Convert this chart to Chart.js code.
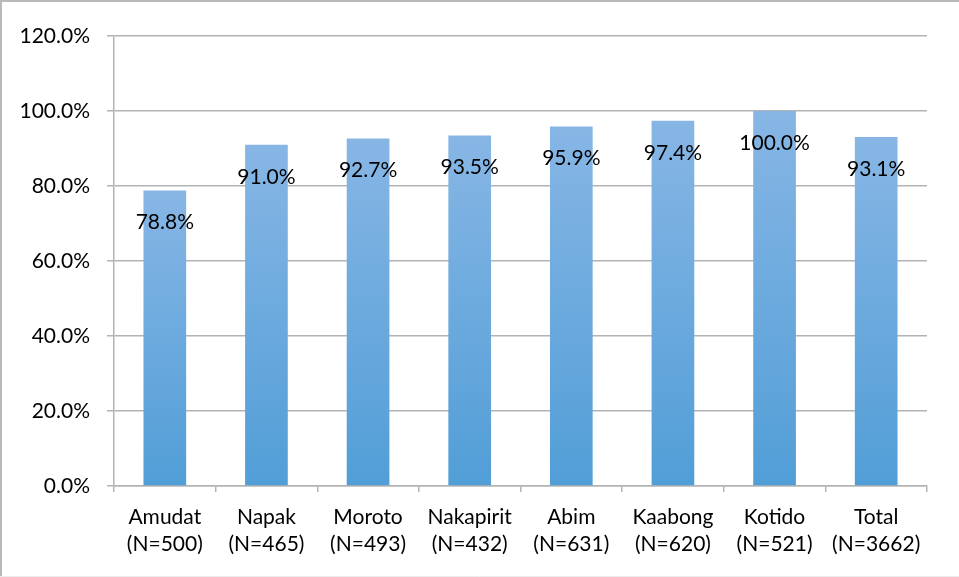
<!DOCTYPE html>
<html>
<head>
<meta charset="utf-8">
<script src="https://cdn.jsdelivr.net/npm/chart.js@4"></script>
<style>
	body { margin: 0; background: #fff; }
	canvas { display: block; }
</style>
</head>
<body>
<canvas id="myChart" width="959" height="577"></canvas>
<script>
var districts = ['Amudat', 'Napak', 'Moroto', 'Nakapirit', 'Abim', 'Kaabong', 'Kotido', 'Total'];
var sampleSizes = ['(N=500)', '(N=465)', '(N=493)', '(N=432)', '(N=631)', '(N=620)', '(N=521)', '(N=3662)'];
var percents = [78.8, 91.0, 92.7, 93.5, 95.9, 97.4, 100.0, 93.1];
var yTicks = [0, 20, 40, 60, 80, 100, 120];

var fontFamily = 'Lato, "Liberation Sans", sans-serif';
var labelFont = '21px ' + fontFamily;

// each bar gets its own light-to-dark gradient
function barFill(context) {
	var chart = context.chart;
	if (!chart.chartArea || !chart.scales.y) return '#6aaae0';
	var v = context.raw;
	var yTop = chart.scales.y.getPixelForValue(v);
	var yBase = chart.scales.y.getPixelForValue(0);
	var g = chart.ctx.createLinearGradient(0, yTop, 0, yBase);
	g.addColorStop(0, '#87b6e5');
	g.addColorStop(1, '#519ed7');
	return g;
}

var frame = {
	id: 'frame',
	afterDraw: function(chart) {
		var c = chart.ctx;
		c.save();
		c.strokeStyle = '#b9b9b9';
		c.lineWidth = 2;
		c.beginPath();
		c.moveTo(0, 1); c.lineTo(959, 1);
		c.moveTo(1, 0); c.lineTo(1, 577);
		c.stroke();
		c.strokeStyle = '#ececec';
		c.lineWidth = 1;
		c.beginPath();
		c.moveTo(0, 576.5); c.lineTo(959, 576.5);
		c.stroke();
		c.restore();
	}
};

var valueLabels = {
	id: 'valueLabels',
	afterDatasetsDraw: function(chart) {
		var c = chart.ctx;
		var meta = chart.getDatasetMeta(0);
		c.save();
		c.font = labelFont;
		c.fillStyle = '#000';
		c.textAlign = 'center';
		c.textBaseline = 'middle';
		meta.data.forEach(function(bar, i) {
			c.fillText(percents[i].toFixed(1) + '%', bar.x, bar.y + 32);
		});
		c.restore();
	}
};

var ctx = document.getElementById('myChart').getContext('2d');
var myChart = new Chart(ctx, {
	type: 'bar',
	data: {
		labels: districts.map(function(d, i) { return [d, sampleSizes[i]]; }),
		datasets: [{
			data: percents,
			backgroundColor: barFill,
			categoryPercentage: 1,
			barPercentage: 0.42
		}]
	},
	plugins: [frame, valueLabels],
	options: {
		responsive: false,
		animation: false,
		layout: { padding: { top: 36, right: 32, left: 0, bottom: 0 } },
		plugins: {
			legend: { display: false },
			tooltip: { enabled: false }
		},
		scales: {
			x: {
				grid: {
					offset: true,
					drawOnChartArea: false,
					color: '#b3b3b3',
					lineWidth: 1.5,
					tickLength: 6
				},
				border: { color: '#b3b3b3', width: 1.5 },
				ticks: {
					color: '#000',
					font: { family: fontFamily, size: 21, lineHeight: 1.29 },
					padding: 12,
					maxRotation: 0
				},
				afterFit: function(s) { s.height = 91; }
			},
			y: {
				min: 0,
				max: 120,
				afterBuildTicks: function(s) {
					s.ticks = yTicks.map(function(v) { return { value: v }; });
				},
				grid: {
					color: '#b3b3b3',
					lineWidth: 1.5,
					tickLength: 7
				},
				border: { color: '#b3b3b3', width: 1.5 },
				ticks: {
					color: '#000',
					font: { family: fontFamily, size: 21 },
					padding: 17,
					callback: function(v) { return v.toFixed(1) + '%'; }
				},
				afterFit: function(s) { s.width = 114; }
			}
		}
	}
});
</script>
</body>
</html>
